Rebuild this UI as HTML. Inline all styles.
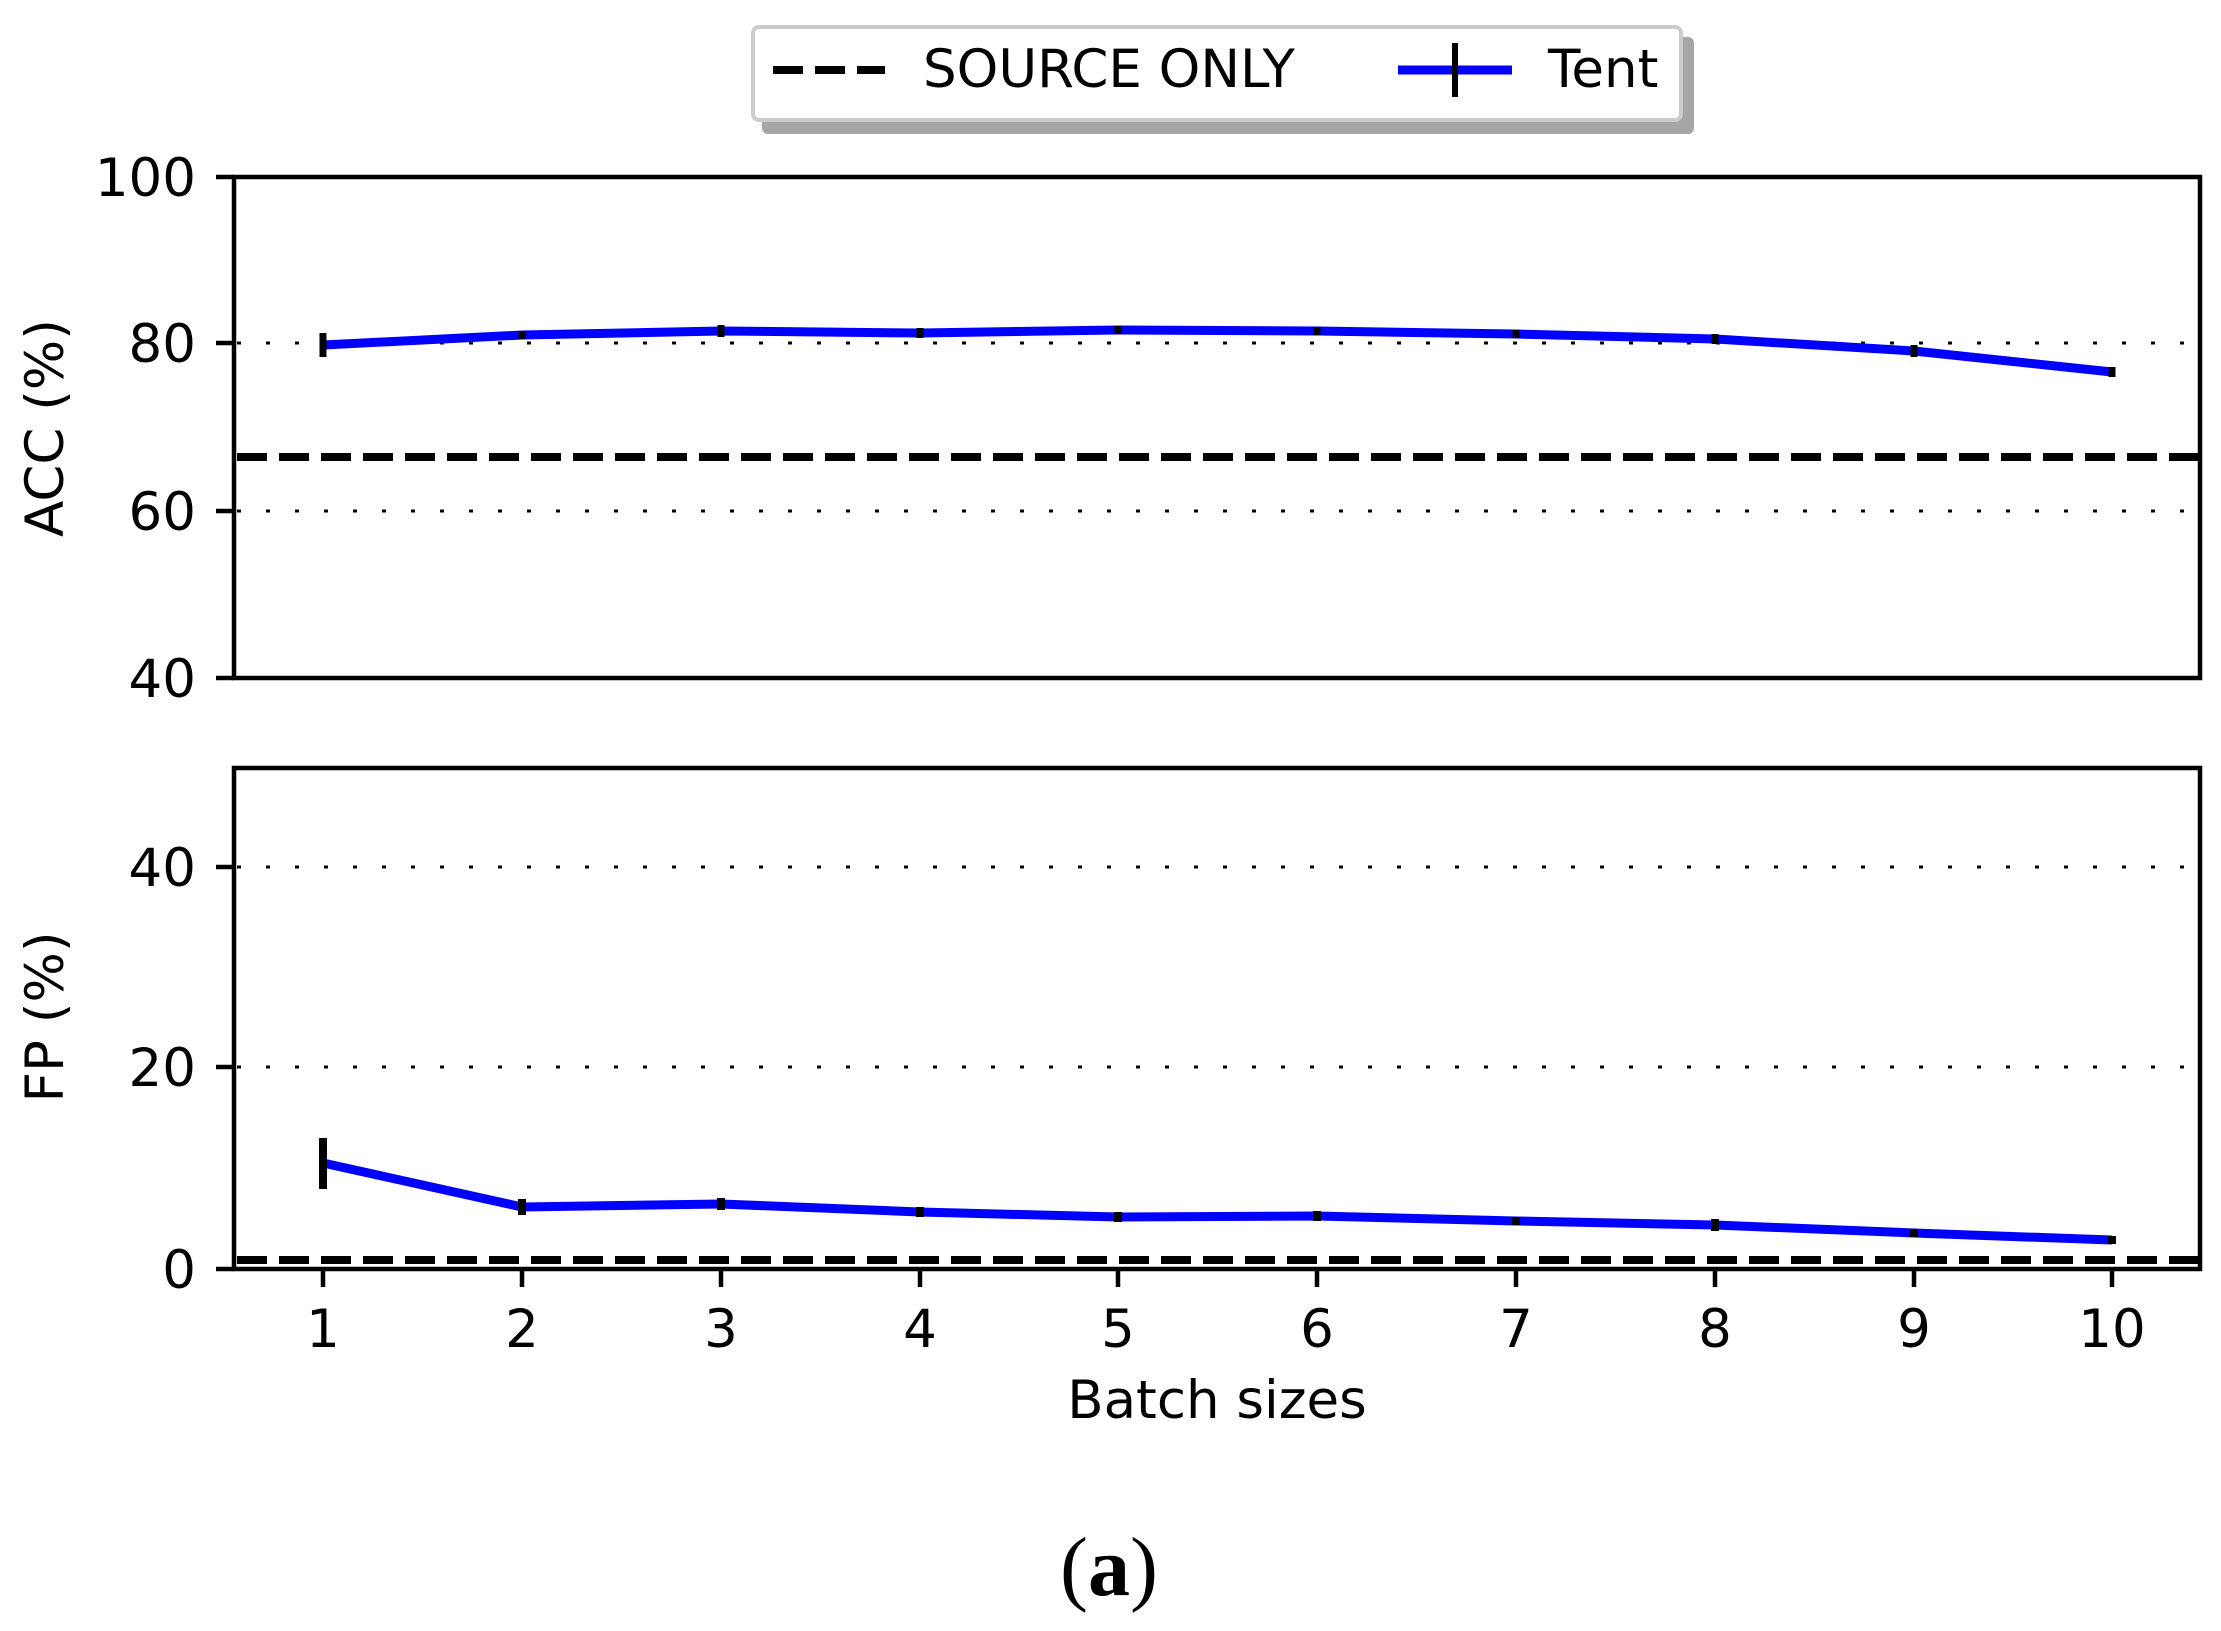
<!DOCTYPE html>
<html><head><meta charset="utf-8"><style>html,body{margin:0;padding:0;background:#fff}svg{display:block}</style></head>
<body>
<svg width="2221" height="1631" viewBox="0 0 2221 1631" xmlns="http://www.w3.org/2000/svg" font-family="'DejaVu Sans','Liberation Sans',sans-serif">
<!-- legend -->
<rect x="762" y="37" width="932" height="97" rx="6" fill="#a6a6a6"/>
<rect x="753" y="27" width="928" height="93" rx="6" fill="#fff" stroke="#cccccc" stroke-width="4"/>
<line x1="773" y1="70" x2="885" y2="70" stroke="#000" stroke-width="8" stroke-dasharray="30,12"/>
<text x="923" y="87" font-size="53">SOURCE ONLY</text>
<line x1="1398" y1="70" x2="1512" y2="70" stroke="#0000ff" stroke-width="9"/>
<line x1="1455" y1="43" x2="1455" y2="97" stroke="#000" stroke-width="6"/>
<text x="1548" y="87" font-size="53">Tent</text>

<g stroke="#000" stroke-width="3" stroke-dasharray="4,25">
<line x1="237" y1="343" x2="2200" y2="343"/>
<line x1="237" y1="511" x2="2200" y2="511"/>
<line x1="237" y1="867" x2="2200" y2="867"/>
<line x1="237" y1="1067" x2="2200" y2="1067"/>
</g>
<line x1="237" y1="457" x2="2200" y2="457" stroke="#000" stroke-width="8" stroke-dasharray="30,12"/>
<line x1="237" y1="1260" x2="2200" y2="1260" stroke="#000" stroke-width="8" stroke-dasharray="30,12"/>

<polyline fill="none" stroke="#0000ff" stroke-width="9" stroke-linejoin="round"
points="323,345 522,335 721,331 920,333 1118,330 1317,331 1516,334 1715,339 1914,351 2112,372"/>
<g stroke="#000" stroke-width="7">
<line x1="323" y1="333" x2="323" y2="357"/>
<line x1="522" y1="331" x2="522" y2="339"/>
<line x1="721" y1="325" x2="721" y2="337"/>
<line x1="920" y1="328" x2="920" y2="338"/>
<line x1="1118" y1="326" x2="1118" y2="334"/>
<line x1="1317" y1="327" x2="1317" y2="335"/>
<line x1="1516" y1="330" x2="1516" y2="338"/>
<line x1="1715" y1="334" x2="1715" y2="344"/>
<line x1="1914" y1="345" x2="1914" y2="357"/>
<line x1="2112" y1="367" x2="2112" y2="377"/>
</g>

<polyline fill="none" stroke="#0000ff" stroke-width="9" stroke-linejoin="round"
points="323,1163 522,1207 721,1204 920,1212 1118,1217 1317,1216 1516,1221 1715,1225 1914,1233 2112,1240"/>
<g stroke="#000" stroke-width="8">
<line x1="323" y1="1138" x2="323" y2="1189"/>
<line x1="522" y1="1199" x2="522" y2="1215"/>
<line x1="721" y1="1198" x2="721" y2="1210"/>
<line x1="920" y1="1207" x2="920" y2="1217"/>
<line x1="1118" y1="1212" x2="1118" y2="1222"/>
<line x1="1317" y1="1211" x2="1317" y2="1221"/>
<line x1="1516" y1="1217" x2="1516" y2="1225"/>
<line x1="1715" y1="1219" x2="1715" y2="1231"/>
<line x1="1914" y1="1229" x2="1914" y2="1237"/>
<line x1="2112" y1="1236" x2="2112" y2="1244"/>
</g>

<rect x="234" y="177" width="1966" height="501" fill="none" stroke="#000" stroke-width="4.5"/>
<rect x="234" y="768" width="1966" height="501" fill="none" stroke="#000" stroke-width="4.5"/>

<g stroke="#000" stroke-width="4.5">
<line x1="216" y1="177" x2="234" y2="177"/>
<line x1="216" y1="343" x2="234" y2="343"/>
<line x1="216" y1="511" x2="234" y2="511"/>
<line x1="216" y1="678" x2="234" y2="678"/>
<line x1="216" y1="867" x2="234" y2="867"/>
<line x1="216" y1="1067" x2="234" y2="1067"/>
<line x1="216" y1="1269" x2="234" y2="1269"/>
</g>
<g font-size="53" text-anchor="end">
<text x="196" y="196">100</text>
<text x="196" y="362">80</text>
<text x="196" y="530">60</text>
<text x="196" y="697">40</text>
<text x="196" y="886">40</text>
<text x="196" y="1086">20</text>
<text x="196" y="1288">0</text>
</g>
<text transform="translate(63,428) rotate(-90)" font-size="53" text-anchor="middle">ACC (%)</text>
<text transform="translate(63,1017) rotate(-90)" font-size="53" text-anchor="middle">FP (%)</text>

<g stroke="#000" stroke-width="4.5">
<line x1="323" y1="1269" x2="323" y2="1287"/>
<line x1="522" y1="1269" x2="522" y2="1287"/>
<line x1="721" y1="1269" x2="721" y2="1287"/>
<line x1="920" y1="1269" x2="920" y2="1287"/>
<line x1="1118" y1="1269" x2="1118" y2="1287"/>
<line x1="1317" y1="1269" x2="1317" y2="1287"/>
<line x1="1516" y1="1269" x2="1516" y2="1287"/>
<line x1="1715" y1="1269" x2="1715" y2="1287"/>
<line x1="1914" y1="1269" x2="1914" y2="1287"/>
<line x1="2112" y1="1269" x2="2112" y2="1287"/>
</g>
<g font-size="53" text-anchor="middle">
<text x="323" y="1347">1</text>
<text x="522" y="1347">2</text>
<text x="721" y="1347">3</text>
<text x="920" y="1347">4</text>
<text x="1118" y="1347">5</text>
<text x="1317" y="1347">6</text>
<text x="1516" y="1347">7</text>
<text x="1715" y="1347">8</text>
<text x="1914" y="1347">9</text>
<text x="2112" y="1347">10</text>
</g>
<text x="1217" y="1418" font-size="53" text-anchor="middle">Batch sizes</text>
<text x="1109" y="1595" font-size="84" text-anchor="middle" font-family="'Liberation Serif',serif">(<tspan font-weight="bold">a</tspan>)</text>
</svg>
</body></html>
